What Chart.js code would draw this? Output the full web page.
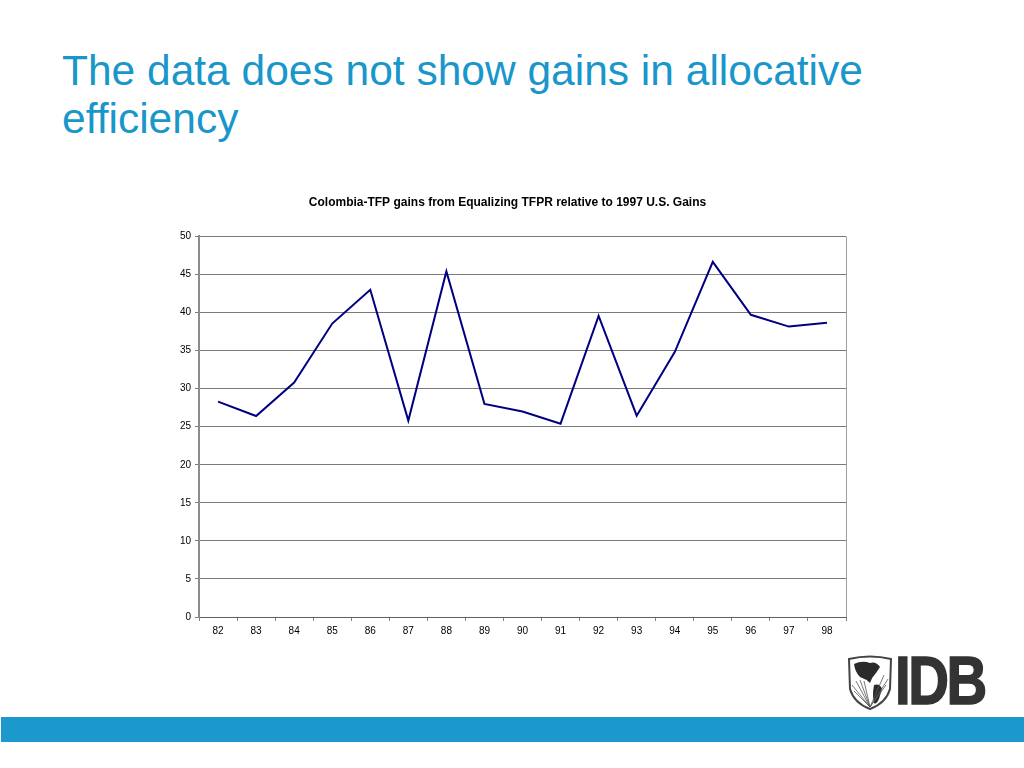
<!DOCTYPE html>
<html>
<head>
<meta charset="utf-8">
<script src="https://cdn.jsdelivr.net/npm/chart.js@4/dist/chart.umd.min.js"></script>
<style>
  html, body { margin: 0; padding: 0; background: #fff; }
  body { width: 1024px; height: 768px; position: relative; overflow: hidden; font-family: "Liberation Sans", Arial, sans-serif; }
  #title { position: absolute; left: 62px; top: 47px; font-size: 42.5px; line-height: 48px; color: #1996CA; }
  #wrap { position: absolute; left: 0; top: 0; width: 1024px; height: 768px; }
  #band { position: absolute; left: 1px; top: 717px; width: 1023px; height: 25px; background: #1B98CC; }
  #logo { position: absolute; left: 846px; top: 655px; width: 150px; height: 56px; }
  #idb { position: absolute; left: 895px; top: 644px; font-family: "Liberation Sans", Arial, sans-serif; font-weight: bold; font-size: 68px; line-height: 72px; color: #333; letter-spacing: -3px; -webkit-text-stroke: 1.5px #333; transform: scaleX(0.83); transform-origin: left top; }
</style>
</head>
<body>
<div id="title">The data does not show gains in allocative<br>efficiency</div>
<div id="wrap"><canvas id="c" width="1024" height="768"></canvas></div>
<svg id="logo" viewBox="0 0 150 56" xmlns="http://www.w3.org/2000/svg">
  <path d="M3 4 Q24 -1 45 4 L44 34 Q40 48 24 54 Q8 48 4 34 Z" fill="#fff" stroke="#444" stroke-width="2"/>
  <path d="M8 9 Q16 5 24 8 Q30 6 34 12 L30 18 Q26 22 24 28 Q20 24 14 22 Q9 17 8 9 Z" fill="#2b2b2b"/>
  <path d="M28 30 Q34 28 36 34 L33 44 Q30 50 28 48 Q26 40 28 30 Z" fill="#2b2b2b"/>
  <g stroke="#555" stroke-width="0.8">
    <line x1="24" y1="52" x2="6" y2="30"/><line x1="24" y1="52" x2="10" y2="26"/>
    <line x1="24" y1="52" x2="14" y2="25"/><line x1="24" y1="52" x2="18" y2="26"/>
    <line x1="24" y1="52" x2="8" y2="36"/><line x1="24" y1="52" x2="40" y2="30"/>
    <line x1="24" y1="52" x2="42" y2="24"/><line x1="24" y1="52" x2="38" y2="20"/>
  </g>
</svg>
<div id="idb">IDB</div>
<div id="band"></div>
<script>
const categories = ["82","83","84","85","86","87","88","89","90","91","92","93","94","95","96","97","98"];
const gains = [28.3, 26.4, 30.8, 38.55, 43.0, 25.8, 45.4, 28.0, 27.0, 25.4, 39.55, 26.45, 34.8, 46.65, 39.7, 38.15, 38.65];
const yTicks = [0, 5, 10, 15, 20, 25, 30, 35, 40, 45, 50];
const chartTitle = "Colombia-TFP gains from Equalizing TFPR relative to 1997 U.S. Gains";

const rightBorder = {
  id: 'rightBorder',
  afterDraw(chart) {
    const { ctx, chartArea } = chart;
    ctx.save();
    ctx.strokeStyle = '#a0a0a0';
    ctx.lineWidth = 1;
    ctx.beginPath();
    ctx.moveTo(chartArea.right + 0.5, chartArea.top);
    ctx.lineTo(chartArea.right + 0.5, chartArea.bottom);
    ctx.stroke();
    ctx.restore();
  }
};

new Chart(document.getElementById('c'), {
  type: 'line',
  data: {
    labels: categories,
    datasets: [{
      data: gains,
      borderColor: '#000080',
      borderWidth: 2,
      pointRadius: 0,
      tension: 0,
      fill: false
    }]
  },
  options: {
    responsive: false,
    animation: false,
    devicePixelRatio: 1,
    layout: { padding: { left: 169, right: 178, top: 189, bottom: 121 } },
    plugins: {
      legend: { display: false },
      tooltip: { enabled: false },
      title: {
        display: true,
        text: chartTitle,
        color: '#000',
        font: { family: "'Liberation Sans', Arial, sans-serif", size: 12, weight: 'bold' },
        padding: { top: 6, bottom: 27 }
      }
    },
    scales: {
      x: {
        offset: true,
        afterFit(s) { s.height = 30; },
        grid: { offset: true, drawOnChartArea: false, drawTicks: true, tickLength: 4, color: '#808080' },
        border: { display: true, color: '#606060', width: 1 },
        ticks: { color: '#000', font: { family: "'Liberation Sans', Arial, sans-serif", size: 10 }, padding: 4, maxRotation: 0, autoSkip: false }
      },
      y: {
        min: 0, max: 50,
        afterFit(s) { s.width = 30; },
        afterBuildTicks(s) { s.ticks = yTicks.map(v => ({ value: v })); },
        grid: { color: '#7a7a7a', lineWidth: 1, tickLength: 4, drawTicks: true },
        border: { display: true, color: '#8c8c8c', width: 2 },
        ticks: { color: '#000', font: { family: "'Liberation Sans', Arial, sans-serif", size: 10 }, padding: 4 }
      }
    }
  },
  plugins: [rightBorder]
});
</script>
</body>
</html>
